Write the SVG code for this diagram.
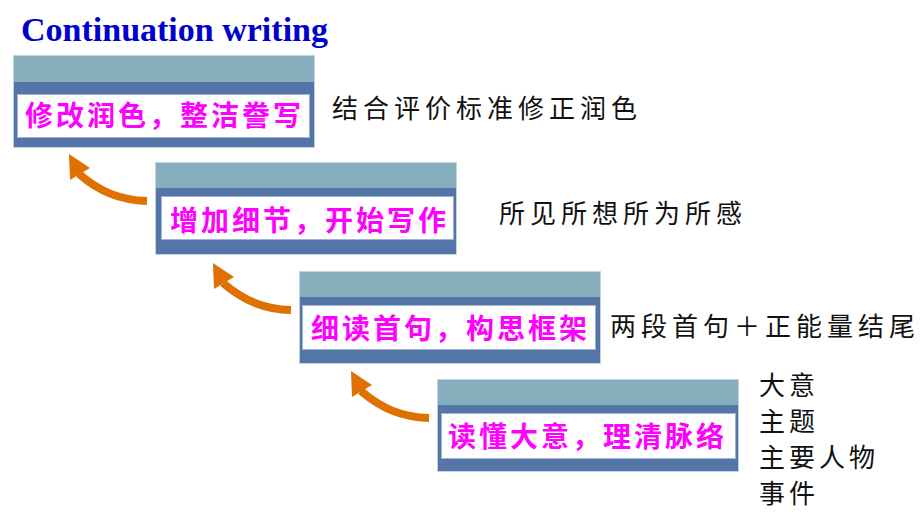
<svg xmlns="http://www.w3.org/2000/svg" width="920" height="518" viewBox="0 0 920 518">
<style>
.teal{fill:#86AEBC;}
.blue{fill:#5475A8;}
.outer{fill:none;stroke:#C5D3E0;stroke-width:1;}
.inner{fill:#FFFFFF;stroke:#9FB3CF;stroke-width:1;}
.lbl{font-family:"Noto Sans CJK SC",sans-serif;font-weight:700;font-size:28px;fill:#FF00FF;letter-spacing:3px;}
.note{font-family:"Noto Sans CJK SC",sans-serif;font-weight:400;font-size:26px;fill:#111111;letter-spacing:5px;}
.list{letter-spacing:4px;}
.arr{fill:none;stroke:#DE7100;stroke-width:8;}
.head{fill:#DE7100;}
</style>
<defs>
<g id="arrow">
<path class="arr" d="M-8,39 C-35,38 -55,30 -76,12"/>
<polygon class="head" points="-86,-8 -85,18 -65,6"/>
</g>
</defs>
<text x="21" y="41" font-family="Liberation Serif, serif" font-weight="700" font-size="33.5" fill="#0000CC" textLength="307" lengthAdjust="spacingAndGlyphs">Continuation writing</text>
<g id="node1">
<rect class="teal" x="13" y="55" width="302" height="27"/>
<rect class="blue" x="13" y="82" width="302" height="66"/>
<rect class="outer" x="13.5" y="55.5" width="301" height="92"/>
<rect class="inner" x="17.5" y="94.5" width="292" height="43"/>
<text class="lbl" x="25" y="126">修改润色，整洁誊写</text>
</g>
<g id="node2">
<rect class="teal" x="155" y="162" width="302" height="26"/>
<rect class="blue" x="155" y="188" width="302" height="67"/>
<rect class="outer" x="155.5" y="162.5" width="301" height="92"/>
<rect class="inner" x="161.5" y="196.5" width="292" height="43"/>
<text class="lbl" x="170" y="231">增加细节，开始写作</text>
</g>
<g id="node3">
<rect class="teal" x="299" y="271" width="302" height="26"/>
<rect class="blue" x="299" y="297" width="302" height="67"/>
<rect class="outer" x="299.5" y="271.5" width="301" height="92"/>
<rect class="inner" x="302.5" y="305.5" width="293" height="44"/>
<text class="lbl" x="311" y="339">细读首句，构思框架</text>
</g>
<g id="node4">
<rect class="teal" x="437" y="379" width="302" height="26"/>
<rect class="blue" x="437" y="405" width="302" height="67"/>
<rect class="outer" x="437.5" y="379.5" width="301" height="92"/>
<rect class="inner" x="441.5" y="413.5" width="294" height="45"/>
<text class="lbl" x="448" y="447">读懂大意，理清脉络</text>
</g>
<g id="connectors">
<use href="#arrow" transform="translate(155,162)"/>
<use href="#arrow" transform="translate(299,271)"/>
<use href="#arrow" transform="translate(437,379)"/>
</g>
<g id="notes">
<text class="note" x="332" y="118">结合评价标准修正润色</text>
<text class="note" x="499" y="223">所见所想所为所感</text>
<text class="note" x="610" y="336">两段首句＋正能量结尾</text>
<text class="note list" x="759" y="395">大意</text>
<text class="note list" x="759" y="431">主题</text>
<text class="note list" x="759" y="467">主要人物</text>
<text class="note list" x="759" y="503">事件</text>
</g>
</svg>
